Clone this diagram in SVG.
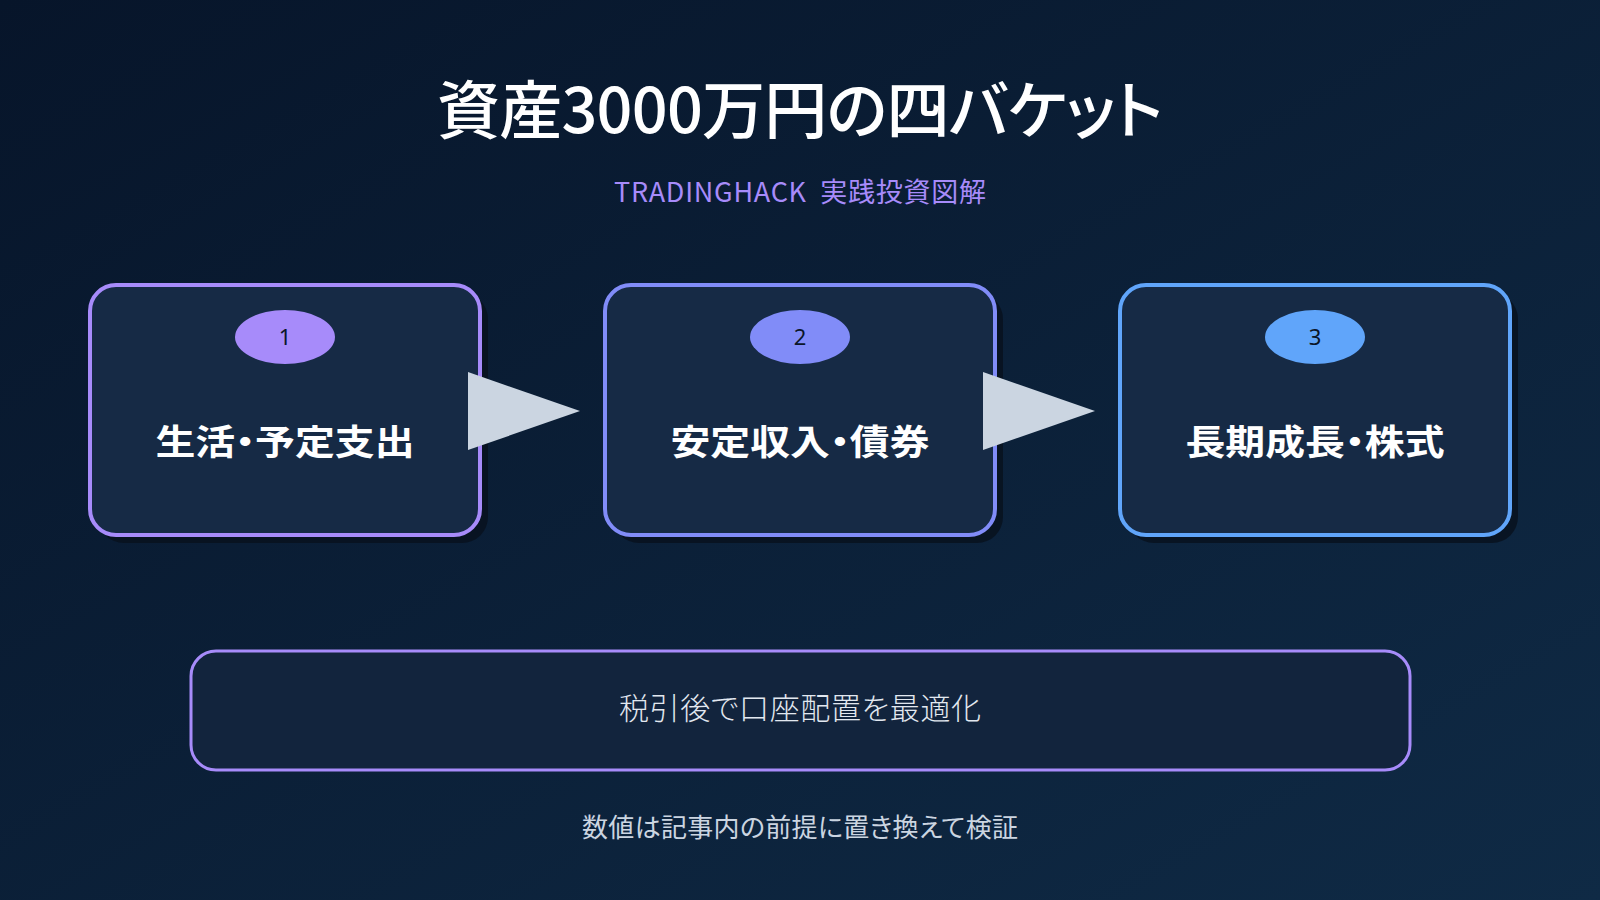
<svg xmlns="http://www.w3.org/2000/svg" width="1600" height="900" viewBox="0 0 1600 900">
<defs>
<linearGradient id="bg" x1="0" y1="0" x2="1" y2="1">
<stop offset="0" stop-color="#07152a"/>
<stop offset="1" stop-color="#0f2a45"/>
</linearGradient>
<style>
.jp{font-family:"Noto Sans CJK JP","Noto Sans",sans-serif;font-feature-settings:"palt";}
.box{fill:#162a45;stroke-width:4;}
.shadow{fill:#08121f;opacity:0.85;}
.lbl{font-size:35px;font-weight:700;fill:#ffffff;text-anchor:middle;}
.num{font-size:22px;fill:#0b1628;text-anchor:middle;font-family:"Noto Sans",sans-serif;}
.arrow{fill:#cbd5e1;}
</style>
</defs>
<rect width="1600" height="900" fill="url(#bg)"/>
<text class="jp" x="800" y="133" font-size="63" font-weight="500" fill="#ffffff" text-anchor="middle" textLength="726">資産3000万円の四バケット</text>
<text class="jp" x="800" y="202" font-size="27" fill="#a78bfa" text-anchor="middle" xml:space="preserve" textLength="372">TRADINGHACK  実践投資図解</text>
<g id="node1">
<rect class="shadow" x="98" y="293" width="390" height="250" rx="26"/>
<rect class="box" x="90" y="285" width="390" height="250" rx="26" stroke="#a78bfa"/>
<ellipse cx="285" cy="337" rx="50" ry="27" fill="#a78bfa"/>
<text class="num" x="285" y="345">1</text>
<text class="jp lbl" x="285" y="455" textLength="259" lengthAdjust="spacingAndGlyphs">生活・予定支出</text>
</g>
<g id="node2">
<rect class="shadow" x="613" y="293" width="390" height="250" rx="26"/>
<rect class="box" x="605" y="285" width="390" height="250" rx="26" stroke="#818cf8"/>
<ellipse cx="800" cy="337" rx="50" ry="27" fill="#818cf8"/>
<text class="num" x="800" y="345">2</text>
<text class="jp lbl" x="800" y="455" textLength="259" lengthAdjust="spacingAndGlyphs">安定収入・債券</text>
</g>
<g id="node3">
<rect class="shadow" x="1128" y="293" width="390" height="250" rx="26"/>
<rect class="box" x="1120" y="285" width="390" height="250" rx="26" stroke="#60a5fa"/>
<ellipse cx="1315" cy="337" rx="50" ry="27" fill="#60a5fa"/>
<text class="num" x="1315" y="345">3</text>
<text class="jp lbl" x="1315" y="455" textLength="259" lengthAdjust="spacingAndGlyphs">長期成長・株式</text>
</g>
<g id="connectors">
<polygon class="arrow" points="468,372 580,411 468,450"/>
<polygon class="arrow" points="983,372 1095,411 983,450"/>
</g>
<g id="note">
<rect x="191" y="651" width="1219" height="119" rx="25" fill="#12243d" stroke="#a78bfa" stroke-width="3"/>
<text class="jp" x="800" y="719" font-size="30" font-weight="300" fill="#e2e8f0" text-anchor="middle" textLength="362">税引後で口座配置を最適化</text>
</g>
<text class="jp" x="800" y="837" font-size="26" fill="#cbd5e1" text-anchor="middle" textLength="436">数値は記事内の前提に置き換えて検証</text>
</svg>
